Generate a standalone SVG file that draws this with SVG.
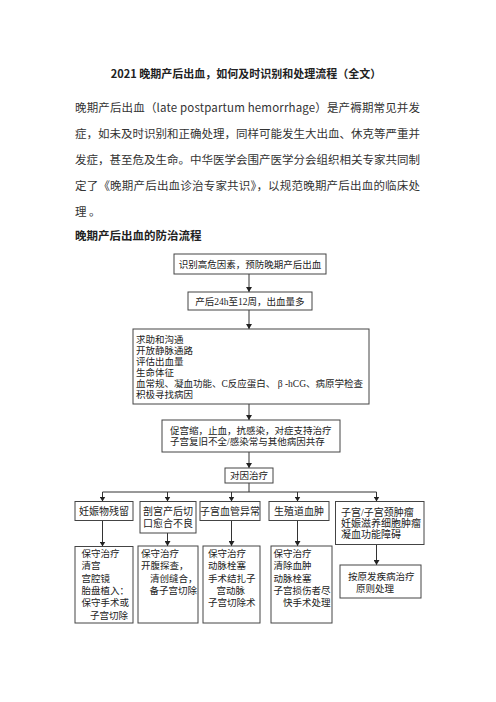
<svg xmlns="http://www.w3.org/2000/svg" width="496" height="702" viewBox="0 0 496 702">
<defs>
<marker id="ah" markerUnits="userSpaceOnUse" markerWidth="6" markerHeight="6" refX="5" refY="3" orient="auto">
<path d="M0,0 L5,3 L0,6 Z" fill="#222"/>
</marker>
<style>
.t{font-family:"Noto Sans CJK SC","Noto Sans",sans-serif;fill:#333;font-size:11.5px}
.h{font-family:"Noto Sans CJK SC","Noto Sans",sans-serif;fill:#222;font-weight:bold}
.b{fill:#fff;stroke:#444;stroke-width:1}
.n{font-family:"Liberation Serif","Noto Sans CJK SC",serif;fill:#222;font-size:9.5px}
.m{font-family:"Liberation Serif","Noto Sans CJK SC",serif;fill:#222;font-size:10px}
.c{text-anchor:middle}
.l{fill:none;stroke:#333;stroke-width:1}
.a{fill:none;stroke:#333;stroke-width:1;marker-end:url(#ah)}
</style>
</defs>
<rect width="496" height="702" fill="#fff"/>
<g id="header">
<text class="h c" x="246" y="78" font-size="11">2021 晚期产后出血，如何及时识别和处理流程（全文）</text>
<text class="t" x="75" y="111.5" textLength="345" lengthAdjust="spacing">晚期产后出血（late postpartum hemorrhage）是产褥期常见并发</text>
<text class="t" x="75" y="137.5" textLength="345" lengthAdjust="spacing">症，如未及时识别和正确处理，同样可能发生大出血、休克等严重并</text>
<text class="t" x="75" y="163.5" textLength="345" lengthAdjust="spacing">发症，甚至危及生命。中华医学会围产医学分会组织相关专家共同制</text>
<text class="t" x="75" y="189.5" textLength="345" lengthAdjust="spacing">定了《晚期产后出血诊治专家共识》，以规范晚期产后出血的临床处</text>
<text class="t" x="75" y="215.5">理 。</text>
<text class="h" x="75" y="240" font-size="11.5">晚期产后出血的防治流程</text>
</g>
<g id="connectors">
<line class="a" x1="249" y1="274" x2="249" y2="292"/>
<line class="a" x1="249" y1="310" x2="249" y2="329"/>
<line class="a" x1="249" y1="404" x2="249" y2="420"/>
<line class="a" x1="249" y1="452" x2="249" y2="468"/>
<line class="l" x1="249" y1="483" x2="249" y2="492"/>
<line class="l" x1="102.5" y1="492" x2="376.5" y2="492"/>
<line class="a" x1="102.5" y1="492" x2="102.5" y2="501.5"/>
<line class="a" x1="167.5" y1="492" x2="167.5" y2="501.5"/>
<line class="a" x1="231.5" y1="492" x2="231.5" y2="501.5"/>
<line class="a" x1="297.5" y1="492" x2="297.5" y2="501.5"/>
<line class="a" x1="376.5" y1="492" x2="376.5" y2="501.5"/>
<line class="a" x1="102.5" y1="520.5" x2="102.5" y2="546.5"/>
<line class="a" x1="167.5" y1="533" x2="167.5" y2="546"/>
<line class="a" x1="231.5" y1="520.5" x2="231.5" y2="546"/>
<line class="a" x1="297.5" y1="520.5" x2="297.5" y2="546"/>
<line class="a" x1="376.5" y1="544.5" x2="376.5" y2="565"/>
</g>
<g id="n1">
<rect class="b" x="174" y="254" width="152" height="20"/>
<text class="n c" x="250" y="267.5">识别高危因素，预防晚期产后出血</text>
</g>
<g id="n2">
<rect class="b" x="188" y="292" width="124" height="18"/>
<text class="n c" x="250" y="304.5">产后24h至12周，出血量多</text>
</g>
<g id="n3">
<rect class="b" x="133" y="329" width="236" height="75"/>
<text class="n" x="136" y="343">求助和沟通</text>
<text class="n" x="136" y="354">开放静脉通路</text>
<text class="n" x="136" y="365">评估出血量</text>
<text class="n" x="136" y="376">生命体征</text>
<text class="n" x="136" y="387">血常规、凝血功能、C反应蛋白、 β -hCG、病原学检查</text>
<text class="n" x="136" y="398">积极寻找病因</text>
</g>
<g id="n4">
<rect class="b" x="162" y="420" width="178" height="32"/>
<text class="n" x="170" y="433.5">促宫缩，止血，抗感染，对症支持治疗</text>
<text class="n" x="170" y="445">子宫复旧不全/感染常与其他病因共存</text>
</g>
<g id="n5">
<rect class="b" x="225" y="468" width="48" height="15"/>
<text class="n c" x="249" y="479">对因治疗</text>
</g>
<g id="n6a">
<rect class="b" x="75" y="501.5" width="58" height="19"/>
<text class="m c" x="104" y="514.5">妊娠物残留</text>
</g>
<g id="n6b">
<rect class="b" x="140" y="501.5" width="56" height="31.5"/>
<text class="m c" x="168" y="514.5">剖宫产后切</text>
<text class="m c" x="168" y="527">口愈合不良</text>
</g>
<g id="n6c">
<rect class="b" x="200" y="501.5" width="60" height="19"/>
<text class="m c" x="230" y="514.5">子宫血管异常</text>
</g>
<g id="n6d">
<rect class="b" x="269" y="501.5" width="60" height="19"/>
<text class="m c" x="299" y="514.5">生殖道血肿</text>
</g>
<g id="n6e">
<rect class="b" x="335.5" y="501.5" width="88.5" height="43"/>
<text class="m" x="341" y="515.5">子宫/子宫颈肿瘤</text>
<text class="m" x="341" y="527">妊娠滋养细胞肿瘤</text>
<text class="m" x="341" y="538">凝血功能障碍</text>
</g>
<g id="n7a">
<rect class="b" x="75" y="546.5" width="58" height="76.5"/>
<text class="n" x="81.5" y="557">保守治疗</text>
<text class="n" x="81.5" y="569">清宫</text>
<text class="n" x="81.5" y="581.5">宫腔镜</text>
<text class="n" x="81.5" y="594">胎盘植入：</text>
<text class="n" x="81.5" y="606">保守手术或</text>
<text class="n" x="90" y="618.5">子宫切除</text>
</g>
<g id="n7b">
<rect class="b" x="138" y="546" width="60" height="77"/>
<text class="n" x="141" y="557">保守治疗</text>
<text class="n" x="141" y="569">开腹探查，</text>
<text class="n" x="150" y="581.5">清创缝合，</text>
<text class="n" x="149.5" y="594">备子宫切除</text>
</g>
<g id="n7c">
<rect class="b" x="203" y="546" width="57" height="77"/>
<text class="n" x="208" y="557">保守治疗</text>
<text class="n" x="208" y="569">动脉栓塞</text>
<text class="n" x="208" y="581.5">手术结扎子</text>
<text class="n" x="216.5" y="594">宫动脉</text>
<text class="n" x="208" y="606">子宫切除术</text>
</g>
<g id="n7d">
<rect class="b" x="271" y="546" width="61" height="77"/>
<text class="n" x="273.5" y="557">保守治疗</text>
<text class="n" x="273.5" y="569">清除血肿</text>
<text class="n" x="273.5" y="581.5">动脉栓塞</text>
<text class="n" x="273.5" y="594">子宫损伤者尽</text>
<text class="n" x="283" y="606">快手术处理</text>
</g>
<g id="n7e">
<rect class="b" x="340" y="565" width="81" height="33"/>
<text class="n" x="348" y="579.5">按原发疾病治疗</text>
<text class="n" x="356" y="592">原则处理</text>
</g>
</svg>
